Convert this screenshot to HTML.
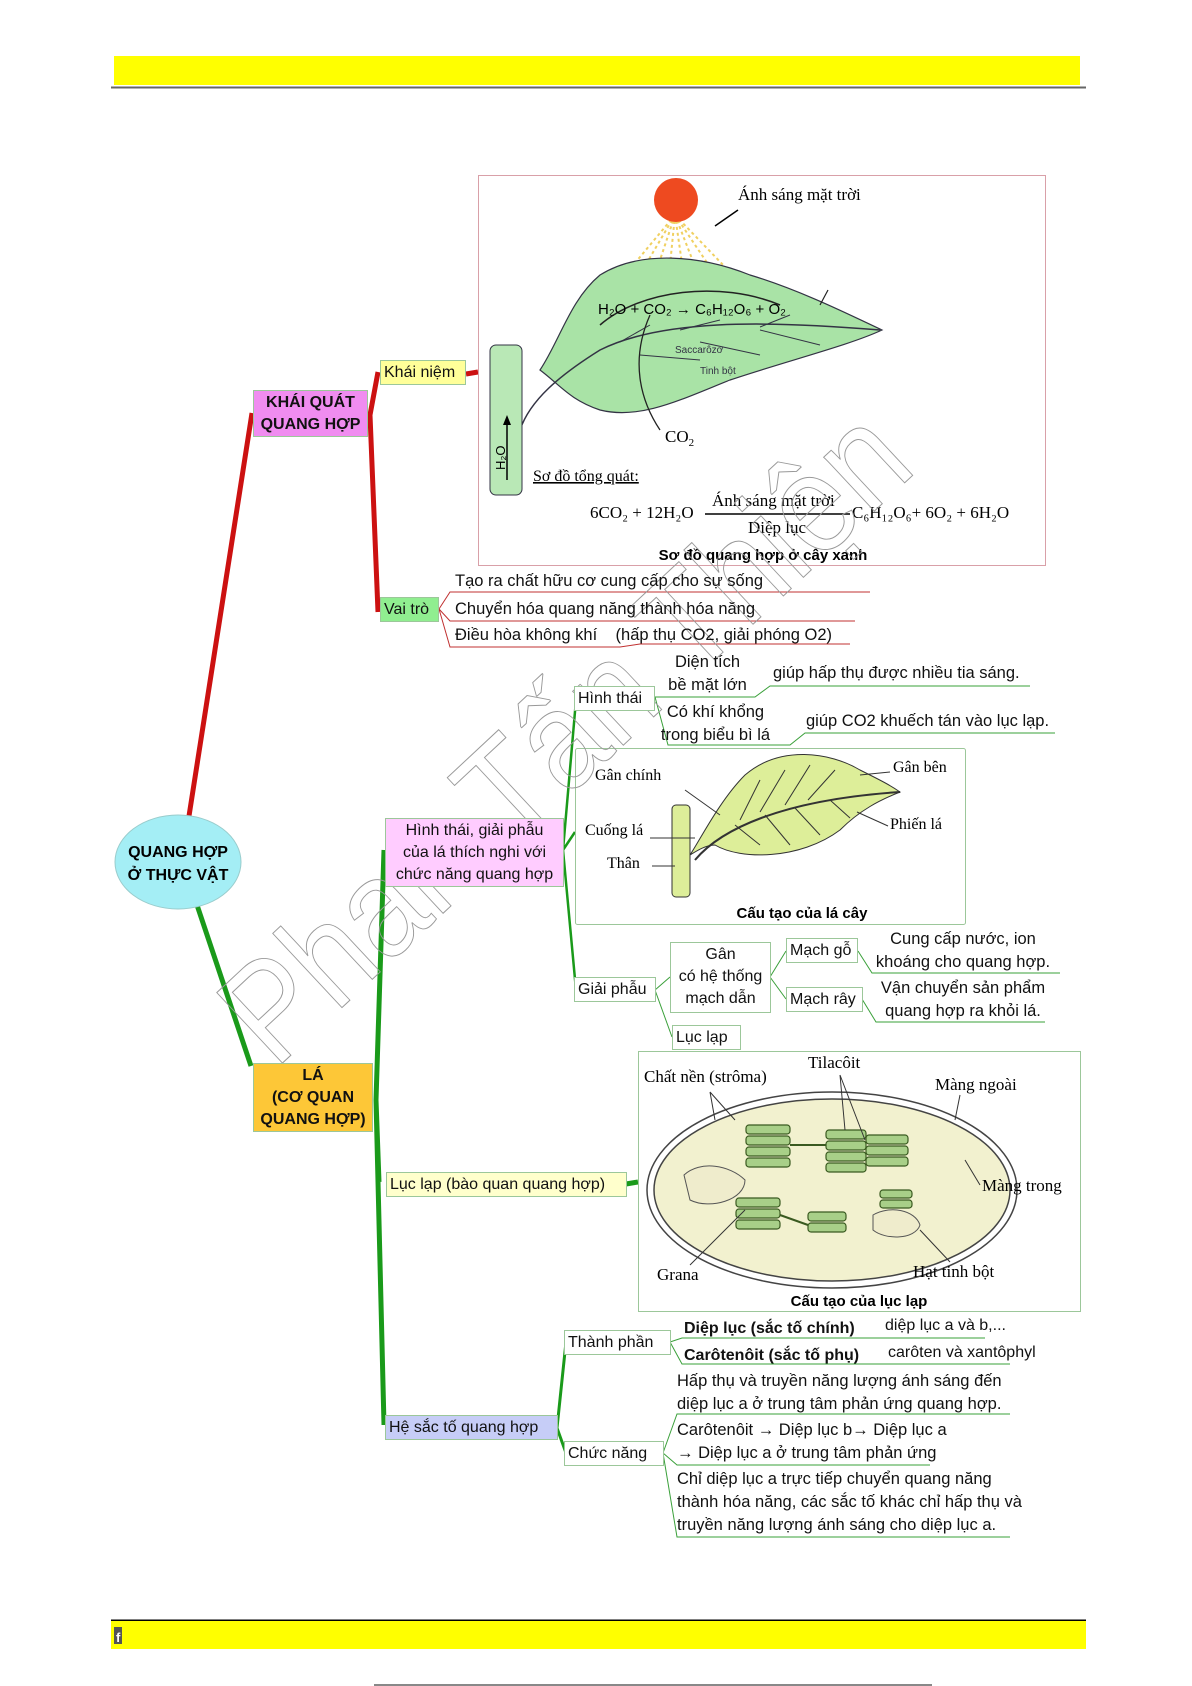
<!DOCTYPE html>
<html><head><meta charset="utf-8"><style>
html,body{margin:0;padding:0;background:#fff}
#c{position:relative;width:1192px;height:1686px;overflow:hidden;font-family:"Liberation Sans",sans-serif;color:#111}
.b{position:absolute;box-sizing:border-box;border:1px solid #9cc79a;font-size:16px;line-height:23px;padding:0 3px;white-space:nowrap;background:#fff}
.t{position:absolute;font-size:16.5px;white-space:nowrap;line-height:23px}
.c{text-align:center}
svg{position:absolute;left:0;top:0}
</style></head><body><div id="c">
<svg width="1192" height="1686" viewBox="0 0 1192 1686" font-family="Liberation Serif, serif">
<rect x="114" y="56" width="966" height="29" fill="#ffff00"/>
<line x1="111" y1="87.5" x2="1086" y2="87.5" stroke="#666" stroke-width="2"/>
<line x1="111" y1="1620.5" x2="1086" y2="1620.5" stroke="#000" stroke-width="2"/>
<rect x="111" y="1621" width="975" height="28" fill="#ffff00"/>
<rect x="114" y="1627" width="8" height="17" fill="#555"/>
<text x="116" y="1642" font-family="Liberation Sans" font-size="13" font-weight="bold" fill="#fff">f</text>
<line x1="374" y1="1685" x2="932" y2="1685" stroke="#888" stroke-width="2"/>

<path d="M189 816 L252 413" stroke="#cc1111" stroke-width="5" fill="none"/>
<path d="M378 372 L370 415 L378 612" stroke="#cc1111" stroke-width="5" fill="none"/>
<path d="M466 374 L478 372" stroke="#cc1111" stroke-width="5"/>
<path d="M439 609 L450 592 L870 592 M439 609 L450 621 L855 621 M439 609 L450 647 L620 647 L640 644 L850 644" stroke="#c03030" stroke-width="1" fill="none"/>
<path d="M197 905 L251 1066" stroke="#1a9a1a" stroke-width="5" fill="none"/>
<path d="M384 850 L376 1100 L379 1182 M376 1100 L384 1425" stroke="#1a9a1a" stroke-width="5" fill="none"/>
<path d="M626 1184 L638 1182" stroke="#1a9a1a" stroke-width="5"/>
<path d="M563 850 L576 700 M563 850 L576 990 M563 850 L575 832" stroke="#1a9a1a" stroke-width="2.5" fill="none"/>
<path d="M557 1428 L566 1342 M557 1428 L566 1453" stroke="#1a9a1a" stroke-width="3" fill="none"/>
<g stroke="#3aa03a" stroke-width="1" fill="none">
<path d="M655 697 L700 697 L755 697 L770 686 L1030 686"/>
<path d="M655 697 L668 745 L790 745 L805 733 L1055 733"/>
<path d="M655 990 L670 977 M655 990 L672 1037"/>
<path d="M770 977 L786 951 M770 977 L786 999"/>
<path d="M858 951 L872 973 L1060 973 M862 999 L876 1022 L1045 1022"/>
<path d="M670 1342 L682 1338 L985 1338 M670 1342 L682 1364 L1010 1364"/>
<path d="M663 1453 L677 1414 L1010 1414 M663 1453 L677 1465 L930 1465 M663 1453 L677 1537 L1010 1537"/>
</g>

<rect x="478.5" y="175.5" width="567" height="390" fill="#fff" stroke="#d9a0a8"/>
<g stroke="#f0d060" stroke-width="2" stroke-dasharray="3 3">
<line x1="675" y1="215" x2="600" y2="305"/><line x1="675" y1="215" x2="622" y2="305"/><line x1="675" y1="215" x2="645" y2="305"/><line x1="675" y1="215" x2="666" y2="305"/><line x1="675" y1="215" x2="688" y2="305"/><line x1="675" y1="215" x2="710" y2="305"/><line x1="675" y1="215" x2="732" y2="300"/><line x1="675" y1="215" x2="752" y2="295"/>
</g>
<circle cx="676" cy="200" r="22" fill="#ee4a20"/>
<path d="M540 370 C560 340 570 300 600 275 C640 250 700 255 750 275 C800 290 850 315 882 330 C850 345 790 360 730 380 C680 400 640 420 600 410 C570 400 560 385 540 370 Z" fill="#a9e3a6" stroke="#334" stroke-width="1.2"/>
<path d="M520 430 C530 400 560 375 600 350 C660 320 760 320 880 330" stroke="#334" stroke-width="1.5" fill="none"/>
<g stroke="#334" fill="none" stroke-width="1"><path d="M620 342 L650 325"/><path d="M640 355 L700 360"/><path d="M680 330 L720 320"/><path d="M700 342 L760 355"/><path d="M760 327 L790 315"/><path d="M760 330 L820 345"/></g>
<rect x="490" y="345" width="32" height="150" rx="6" fill="#b9e8b6" stroke="#334"/>
<path d="M507 480 L507 420" stroke="#000" stroke-width="1.5"/><path d="M503 425 L507 415 L511 425Z"/>
<text x="505" y="470" font-family="Liberation Sans" font-size="13" transform="rotate(-90 505 470)">H₂O</text>
<path d="M600 325 C640 290 720 280 780 305" stroke="#222" stroke-width="1.5" fill="none"/>
<path d="M820 305 L828 290" stroke="#222" stroke-width="1.2"/>
<path d="M660 430 C640 400 630 360 650 315" stroke="#222" stroke-width="1.3" fill="none"/>
<text x="598" y="314" font-family="Liberation Sans" font-size="15">H₂O + CO₂ → C₆H₁₂O₆ + O₂</text>
<text x="675" y="353" font-family="Liberation Sans" font-size="10" fill="#334">Saccarôzơ</text>
<text x="700" y="374" font-family="Liberation Sans" font-size="10" fill="#334">Tinh bột</text>
<text x="738" y="200" font-size="17">Ánh sáng mặt trời</text>
<path d="M738 210 L715 226" stroke="#000" stroke-width="1.5"/>
<text x="665" y="442" font-size="17">CO<tspan font-size="11" dy="4">2</tspan></text>
<text x="533" y="481" font-size="16" text-decoration="underline">Sơ đồ tổng quát:</text>
<text x="590" y="518" font-size="17">6CO₂ + 12H₂O</text>
<line x1="705" y1="514" x2="850" y2="514" stroke="#000" stroke-width="1.5"/>
<text x="712" y="506" font-size="17">Ánh sáng mặt trời</text>
<text x="748" y="533" font-size="17">Diệp lục</text>
<text x="852" y="518" font-size="17">C₆H₁₂O₆+ 6O₂ +  6H₂O</text>
<text x="763" y="560" font-family="Liberation Sans" font-size="15" font-weight="bold" text-anchor="middle">Sơ đồ quang hợp ở cây xanh</text>

<rect x="575.5" y="748.5" width="390" height="176" rx="2" fill="#fff" stroke="#9cc79a"/>
<path d="M690 855 C700 840 720 800 745 775 C780 745 830 752 860 770 C880 780 890 785 900 792 C880 800 860 810 840 830 C800 860 740 860 715 845 C705 845 695 852 690 855Z" fill="#ddee99" stroke="#333"/>
<path d="M695 860 C720 830 780 800 900 792" stroke="#333" stroke-width="2" fill="none"/>
<g stroke="#333" fill="none"><path d="M740 820 L760 780"/><path d="M760 812 L785 770"/><path d="M785 805 L810 765"/><path d="M808 800 L835 770"/><path d="M735 825 L760 845"/><path d="M765 815 L790 845"/><path d="M795 808 L820 835"/><path d="M830 800 L850 818"/></g>
<rect x="672" y="805" width="18" height="92" rx="4" fill="#ddee99" stroke="#333"/>
<text x="595" y="780" font-size="16">Gân chính</text>
<text x="585" y="835" font-size="16">Cuống lá</text><line x1="650" y1="838" x2="695" y2="838" stroke="#333"/>
<text x="607" y="868" font-size="16">Thân</text><line x1="652" y1="866" x2="675" y2="866" stroke="#333"/>
<text x="893" y="772" font-size="16">Gân bên</text><line x1="860" y1="775" x2="890" y2="772" stroke="#333"/>
<text x="890" y="829" font-size="16">Phiến lá</text><line x1="857" y1="812" x2="888" y2="826" stroke="#333"/>
<line x1="685" y1="790" x2="720" y2="815" stroke="#333"/>
<text x="802" y="918" font-family="Liberation Sans" font-size="15" font-weight="bold" text-anchor="middle">Cấu tạo của lá cây</text>

<rect x="638.5" y="1051.5" width="442" height="260" fill="#fff" stroke="#9cc79a"/>
<ellipse cx="832" cy="1190" rx="185" ry="98" fill="#fff" stroke="#444" stroke-width="1.5"/>
<ellipse cx="832" cy="1190" rx="178" ry="91" fill="#f2f1cf" stroke="#444" stroke-width="1.5"/>
<g fill="#a8cf88" stroke="#3a5a20" stroke-width="1.2">
<rect x="746" y="1125" width="44" height="9" rx="3"/><rect x="746" y="1136" width="44" height="9" rx="3"/><rect x="746" y="1147" width="44" height="9" rx="3"/><rect x="746" y="1158" width="44" height="9" rx="3"/>
<rect x="826" y="1130" width="40" height="9" rx="3"/><rect x="826" y="1141" width="40" height="9" rx="3"/><rect x="826" y="1152" width="40" height="9" rx="3"/><rect x="826" y="1163" width="40" height="9" rx="3"/>
<rect x="866" y="1135" width="42" height="9" rx="3"/><rect x="866" y="1146" width="42" height="9" rx="3"/><rect x="866" y="1157" width="42" height="9" rx="3"/>
<rect x="736" y="1198" width="44" height="9" rx="3"/><rect x="736" y="1209" width="44" height="9" rx="3"/><rect x="736" y="1220" width="44" height="9" rx="3"/>
<rect x="808" y="1212" width="38" height="9" rx="3"/><rect x="808" y="1223" width="38" height="9" rx="3"/>
<rect x="880" y="1190" width="32" height="8" rx="3"/><rect x="880" y="1200" width="32" height="8" rx="3"/>
</g>
<path d="M790 1145 L826 1145 M780 1215 L808 1225" stroke="#3a5a20" stroke-width="2"/>
<path d="M684 1175 C700 1160 730 1165 745 1180 C745 1200 710 1210 690 1200Z M873 1215 C890 1205 915 1210 920 1225 C915 1240 885 1240 873 1230Z" fill="#efeccc" stroke="#555"/>
<text x="644" y="1082" font-size="17">Chất nền (strôma)</text>
<text x="808" y="1068" font-size="17">Tilacôit</text>
<text x="935" y="1090" font-size="17">Màng ngoài</text>
<text x="982" y="1191" font-size="17">Màng trong</text>
<text x="657" y="1280" font-size="17">Grana</text>
<text x="913" y="1277" font-size="17">Hạt tinh bột</text>
<g stroke="#333" fill="none"><path d="M710 1092 L715 1120 M710 1092 L735 1120"/><path d="M840 1075 L845 1130 M840 1075 L865 1140"/><path d="M960 1095 L955 1120"/><path d="M980 1185 L965 1160"/><path d="M690 1265 L745 1210"/><path d="M950 1262 L920 1230"/></g>
<text x="859" y="1306" font-family="Liberation Sans" font-size="15" font-weight="bold" text-anchor="middle">Cấu tạo của lục lạp</text>

<ellipse cx="178" cy="862" rx="63" ry="47" fill="#a4eef5" stroke="#9cc"/>
<text x="178" y="857" font-family="Liberation Sans" font-size="16" font-weight="bold" text-anchor="middle">QUANG HỢP</text>
<text x="178" y="880" font-family="Liberation Sans" font-size="16" font-weight="bold" text-anchor="middle">Ở THỰC VẬT</text>

<text x="0" y="0" font-family="Liberation Sans" font-size="140" fill="none" stroke="#999" stroke-width="1" textLength="880" lengthAdjust="spacingAndGlyphs" transform="translate(275 1070) rotate(-43)">Phan Tấn Thiện</text>
</svg>

<div class="b c" style="left:253px;top:390px;width:115px;height:47px;background:#f08cf0;font-weight:bold;font-size:16px;line-height:22px;padding-top:1px">KHÁI QUÁT<br>QUANG HỢP</div>
<div class="b" style="left:380px;top:360px;width:86px;height:25px;background:#ffff99">Khái niệm</div>
<div class="b" style="left:380px;top:597px;width:59px;height:25px;background:#90ee90">Vai trò</div>
<div class="t" style="left:455px;top:570px">Tạo ra chất hữu cơ cung cấp cho sự sống</div>
<div class="t" style="left:455px;top:598px">Chuyển hóa quang năng thành hóa năng</div>
<div class="t" style="left:455px;top:624px">Điều hòa không khí&nbsp;&nbsp;&nbsp;&nbsp;(hấp thụ CO2, giải phóng O2)</div>

<div class="b c" style="left:253px;top:1063px;width:120px;height:69px;background:#fdc737;font-weight:bold;line-height:22px;padding-top:1px">LÁ<br>(CƠ QUAN<br>QUANG HỢP)</div>
<div class="b c" style="left:385px;top:818px;width:179px;height:69px;background:#ffccff;line-height:22px;padding-top:1px">Hình thái, giải phẫu<br>của lá thích nghi với<br>chức năng quang hợp</div>
<div class="b" style="left:574px;top:686px;width:81px;height:25px">Hình thái</div>
<div class="t c" style="left:655px;top:651px;width:105px">Diện tích<br>bề mặt lớn</div>
<div class="t" style="left:773px;top:662px">giúp hấp thụ được nhiều tia sáng.</div>
<div class="t c" style="left:658px;top:701px;width:115px">Có khí khổng<br>trong biểu bì lá</div>
<div class="t" style="left:806px;top:710px">giúp CO2 khuếch tán vào lục lạp.</div>

<div class="b" style="left:574px;top:977px;width:82px;height:25px">Giải phẫu</div>
<div class="b c" style="left:670px;top:942px;width:101px;height:71px;line-height:22px;padding-top:1px">Gân<br>có hệ thống<br>mạch dẫn</div>
<div class="b" style="left:786px;top:938px;width:72px;height:25px">Mạch gỗ</div>
<div class="b" style="left:786px;top:987px;width:77px;height:25px">Mạch rây</div>
<div class="t c" style="left:863px;top:928px;width:200px">Cung cấp nước, ion<br>khoáng cho quang hợp.</div>
<div class="t c" style="left:863px;top:977px;width:200px">Vận chuyển sản phẩm<br>quang hợp ra khỏi lá.</div>
<div class="b" style="left:672px;top:1025px;width:69px;height:25px">Lục lạp</div>

<div class="b" style="left:386px;top:1172px;width:241px;height:25px;background:#ffffcc">Lục lạp (bào quan quang hợp)</div>
<div class="b" style="left:385px;top:1415px;width:173px;height:25px;background:#c6cdf7">Hệ sắc tố quang hợp</div>
<div class="b" style="left:564px;top:1330px;width:107px;height:25px">Thành phần</div>
<div class="b" style="left:564px;top:1441px;width:100px;height:25px">Chức năng</div>
<div class="t" style="left:684px;top:1317px;font-weight:bold;font-size:16px">Diệp lục (sắc tố chính)</div>
<div class="t" style="left:885px;top:1314px;font-size:16px">diệp lục a và b,...</div>
<div class="t" style="left:684px;top:1344px;font-weight:bold;font-size:16px">Carôtenôit (sắc tố phụ)</div>
<div class="t" style="left:888px;top:1341px;font-size:16px">carôten và xantôphyl</div>
<div class="t" style="left:677px;top:1370px">Hấp thụ và truyền năng lượng ánh sáng đến<br>diệp lục a ở trung tâm phản ứng quang hợp.</div>
<div class="t" style="left:677px;top:1419px">Carôtenôit → Diệp lục b→ Diệp lục a<br>→ Diệp lục a ở trung tâm phản ứng</div>
<div class="t" style="left:677px;top:1468px">Chỉ diệp lục a trực tiếp chuyển quang năng<br>thành hóa năng, các sắc tố khác chỉ hấp thụ và<br>truyền năng lượng ánh sáng cho diệp lục a.</div>
</div></body></html>
